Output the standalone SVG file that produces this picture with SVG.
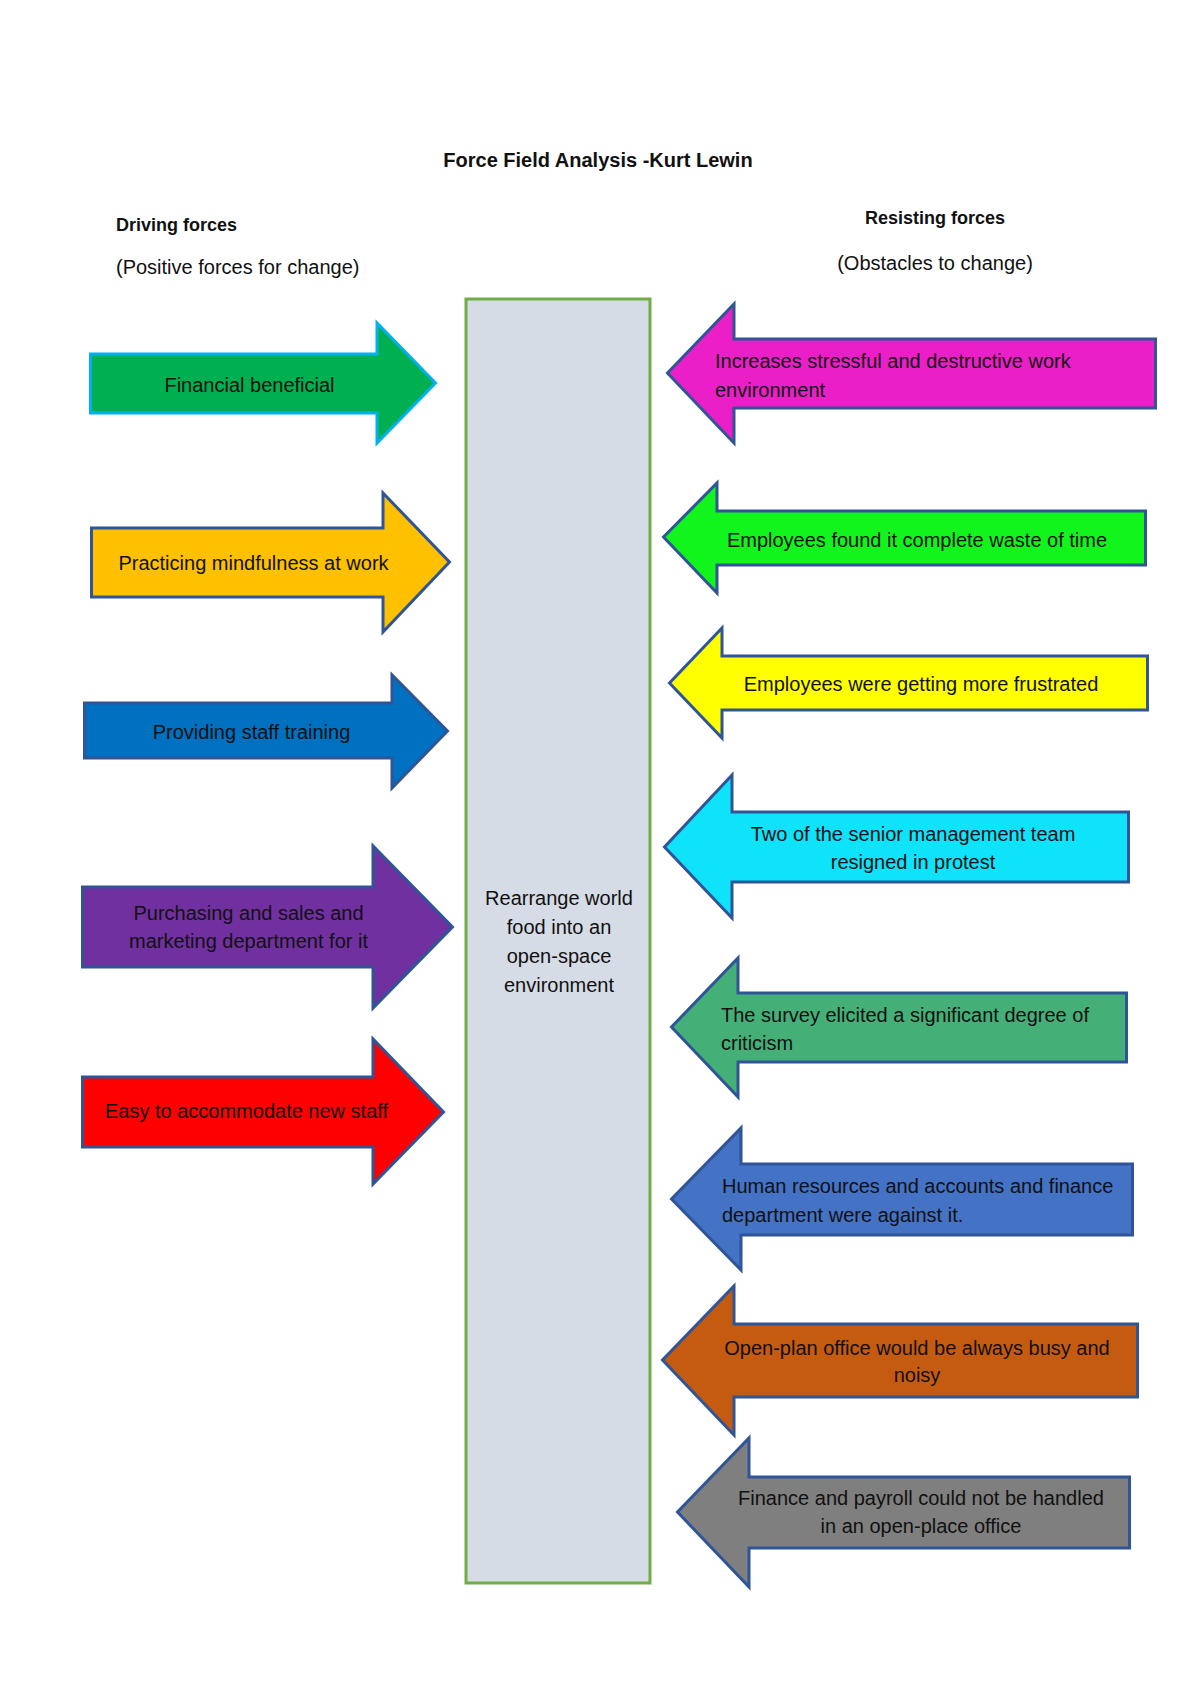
<svg xmlns="http://www.w3.org/2000/svg" width="1200" height="1698" viewBox="0 0 1200 1698">
<style>
text{font-family:"Liberation Sans",Arial,sans-serif;font-size:20px;fill:#111}
.b{font-weight:bold}
.m{text-anchor:middle}
.h{font-size:18px}
.arr{stroke:#2F5597;stroke-width:3;stroke-linejoin:miter}
</style>
<rect width="1200" height="1698" fill="#fff"/>
<g id="headers">
<text class="b m" x="598" y="167" font-size="20.4">Force Field Analysis -Kurt Lewin</text>
<text class="b h" x="116" y="231">Driving forces</text>
<text x="116" y="274">(Positive forces for change)</text>
<text class="b m h" x="935" y="224">Resisting forces</text>
<text class="m" x="935" y="270">(Obstacles to change)</text>
</g>
<g id="center">
<rect x="466" y="299" width="184" height="1284" fill="#D6DCE5" stroke="#70AD47" stroke-width="3"/>
<text class="m" x="559" y="905">Rearrange world</text>
<text class="m" x="559" y="934">food into an</text>
<text class="m" x="559" y="963">open-space</text>
<text class="m" x="559" y="992">environment</text>
</g>
<g id="connectors"></g>
<g id="d1">
<path d="M90.5,354 H377 V323 L435.5,383 L377,443 V413 H90.5 Z" fill="#00B050" stroke="#00B0F0" stroke-width="3"/>
<text class="m" x="249.5" y="392">Financial beneficial</text>
</g>
<g id="d2">
<path class="arr" d="M91.5,528 H383 V493 L449.5,562 L383,632 V597 H91.5 Z" fill="#FFC000"/>
<text class="m" x="253.5" y="570">Practicing mindfulness at work</text>
</g>
<g id="d3">
<path class="arr" d="M84.5,703 H392 V675 L447.5,731 L392,788 V758 H84.5 Z" fill="#0070C0"/>
<text class="m" x="251.5" y="739">Providing staff training</text>
</g>
<g id="d4">
<path class="arr" d="M82.5,887 H373 V846 L452.5,927 L373,1008 V967 H82.5 Z" fill="#7030A0"/>
<text class="m" x="248.5" y="920">Purchasing and sales and</text>
<text class="m" x="248.5" y="948">marketing department for it</text>
</g>
<g id="d5">
<path class="arr" d="M82.5,1077 H373 V1039 L443.5,1112 L373,1184 V1147 H82.5 Z" fill="#FF0000"/>
<text class="m" x="246.5" y="1118">Easy to accommodate new staff</text>
</g>
<g id="r1">
<path class="arr" d="M1155.5,339 H734 V304 L667.5,373 L734,443 V408 H1155.5 Z" fill="#EA1FC8"/>
<text x="715" y="368">Increases stressful and destructive work</text>
<text x="715" y="397">environment</text>
</g>
<g id="r2">
<path class="arr" d="M1145.5,511 H717 V483 L663.5,537 L717,593 V565 H1145.5 Z" fill="#12F51C"/>
<text class="m" x="917" y="547">Employees found it complete waste of time</text>
</g>
<g id="r3">
<path class="arr" d="M1147.5,656 H722 V628 L669.5,683 L722,738 V710 H1147.5 Z" fill="#FFFF00"/>
<text class="m" x="921" y="691">Employees were getting more frustrated</text>
</g>
<g id="r4">
<path class="arr" d="M1128.5,812 H732 V775 L664.5,847 L732,918 V882 H1128.5 Z" fill="#0EE3FA"/>
<text class="m" x="913" y="841">Two of the senior management team</text>
<text class="m" x="913" y="869">resigned in protest</text>
</g>
<g id="r5">
<path class="arr" d="M1126.5,993 H738 V958 L671.5,1027 L738,1097 V1062 H1126.5 Z" fill="#44B078"/>
<text x="721" y="1022">The survey elicited a significant degree of</text>
<text x="721" y="1050">criticism</text>
</g>
<g id="r6">
<path class="arr" d="M1132.5,1164 H741 V1128 L671.5,1199 L741,1270 V1235 H1132.5 Z" fill="#4472C4"/>
<text x="722" y="1193">Human resources and accounts and finance</text>
<text x="722" y="1222">department were against it.</text>
</g>
<g id="r7">
<path class="arr" d="M1137.5,1324 H734 V1286 L662.5,1360 L734,1435 V1397 H1137.5 Z" fill="#C55A11"/>
<text class="m" x="917" y="1355">Open-plan office would be always busy and</text>
<text class="m" x="917" y="1382">noisy</text>
</g>
<g id="r8">
<path class="arr" d="M1129.5,1477 H749 V1438 L677.5,1512 L749,1587 V1548 H1129.5 Z" fill="#7F7F7F"/>
<text class="m" x="921" y="1505">Finance and payroll could not be handled</text>
<text class="m" x="921" y="1533">in an open-place office</text>
</g>
</svg>
